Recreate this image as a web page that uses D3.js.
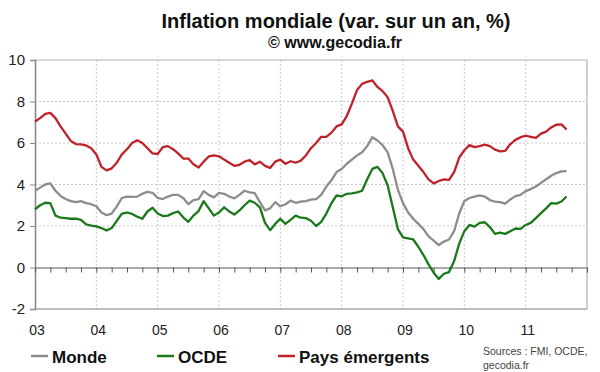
<!DOCTYPE html>
<html>
<head>
    <meta charset="utf-8">
    <script src="https://cdn.jsdelivr.net/npm/d3@7"></script>
    <style>
        * { margin: 0; padding: 0; }
        body { background: #fff; }
        svg { display: block; font-family: Arial, "Liberation Sans", sans-serif; }
    </style>
</head>
<body>
<svg id="chart" width="600" height="372"></svg>
<script>
    // monthly values, Jan 2003 -> Sep 2011
    var monde = [3.7, 3.85, 4.0, 4.05, 3.7, 3.45, 3.3, 3.2, 3.15, 3.2, 3.1, 3.05,
        2.95, 2.65, 2.52, 2.6, 2.95, 3.35, 3.42, 3.4, 3.42, 3.55, 3.65, 3.6,
        3.35, 3.3, 3.42, 3.5, 3.5, 3.35, 3.05, 3.25, 3.3, 3.68, 3.5, 3.38,
        3.6, 3.55, 3.42, 3.33, 3.5, 3.7, 3.62, 3.58, 3.15, 2.75, 2.85, 3.15,
        2.95, 3.05, 3.22, 3.12, 3.18, 3.2, 3.27, 3.3, 3.5, 3.9, 4.2, 4.6,
        4.75, 5.0, 5.2, 5.4, 5.55, 5.85, 6.28, 6.12, 5.9, 5.55, 4.75, 3.75,
        3.1, 2.65, 2.35, 2.1, 1.85, 1.5, 1.3, 1.08, 1.25, 1.35, 1.75, 2.6,
        3.2, 3.35, 3.42, 3.48, 3.42, 3.25, 3.17, 3.15, 3.08, 3.28, 3.44, 3.5,
        3.68, 3.78, 3.9, 4.08, 4.25, 4.42, 4.55, 4.63, 4.64];
    var ocde = [2.8, 3.0, 3.12, 3.1, 2.5, 2.4, 2.38, 2.35, 2.36, 2.3, 2.08, 2.02,
        1.98, 1.9, 1.78, 1.9, 2.25, 2.6, 2.65, 2.58, 2.45, 2.35, 2.7, 2.88,
        2.6, 2.48, 2.5, 2.62, 2.7, 2.42, 2.2, 2.5, 2.72, 3.2, 2.85, 2.5,
        2.65, 2.9, 2.7, 2.55, 2.75, 3.0, 3.22, 3.12, 2.9, 2.15, 1.8, 2.1,
        2.35, 2.1, 2.3, 2.5, 2.4, 2.38, 2.25, 2.0, 2.2, 2.6, 3.1, 3.47,
        3.43, 3.55, 3.57, 3.62, 3.7, 4.25, 4.75, 4.85, 4.55, 3.95, 2.9, 1.85,
        1.45, 1.4, 1.35, 1.0, 0.6, 0.15, -0.25, -0.55, -0.3, -0.22, 0.3, 1.15,
        1.75, 2.05, 1.97, 2.15, 2.18, 1.95, 1.62, 1.68, 1.62, 1.75, 1.88, 1.86,
        2.05, 2.15, 2.38, 2.62, 2.85, 3.1, 3.08, 3.18, 3.42];
    var emergents = [7.04, 7.2, 7.4, 7.45, 7.2, 6.8, 6.45, 6.1, 5.95, 5.93, 5.88, 5.75,
        5.45, 4.85, 4.68, 4.78, 5.05, 5.45, 5.7, 6.0, 6.13, 6.0, 5.75, 5.5,
        5.47, 5.8, 5.85, 5.7, 5.5, 5.25, 5.25, 4.98, 4.82, 5.1, 5.35, 5.4,
        5.36, 5.2, 5.05, 4.9, 4.95, 5.1, 5.18, 4.97, 5.1, 4.9, 4.8, 5.1,
        5.2, 5.0, 5.12, 5.05, 5.15, 5.4, 5.75, 6.0, 6.3, 6.3, 6.5, 6.8,
        6.9, 7.3, 7.9, 8.55, 8.85, 8.95, 9.02, 8.7, 8.5, 8.2, 7.55, 6.8,
        6.55, 5.75, 5.2, 4.9, 4.6, 4.25, 4.05, 4.17, 4.25, 4.22, 4.6, 5.3,
        5.65, 5.9, 5.8, 5.85, 5.92, 5.85, 5.68, 5.6, 5.62, 5.95, 6.15, 6.28,
        6.35, 6.3, 6.25, 6.45, 6.55, 6.75, 6.88, 6.9, 6.65];
    var years = ["03", "04", "05", "06", "07", "08", "09", "10", "11"];
    var yTicks = [-2, 0, 2, 4, 6, 8, 10];

    var series = [
        { name: "Monde", values: monde, color: "#8c8c8c", lx: 31 },
        { name: "OCDE", values: ocde, color: "#1b781b", lx: 157 },
        { name: "Pays émergents", values: emergents, color: "#c0222a", lx: 278 }
    ];

    var plot = { left: 35, right: 587, top: 60, bottom: 309 };
    var svg = d3.select("#chart");

    var x = d3.scaleLinear().domain([0, years.length * 12]).range([plot.left, plot.right]);
    var y = d3.scaleLinear().domain([-2, 10]).range([plot.bottom, plot.top]);

    // title
    svg.append("text").attr("x", 336).attr("y", 28)
        .attr("text-anchor", "middle")
        .style("font-size", "20px").style("font-weight", "bold").style("fill", "#111")
        .text("Inflation mondiale (var. sur un an, %)");
    svg.append("text").attr("x", 335).attr("y", 48)
        .attr("text-anchor", "middle")
        .style("font-size", "16px").style("font-weight", "bold").style("fill", "#111")
        .text("© www.gecodia.fr");

    // grid
    svg.selectAll(".hgrid")
        .data([2, 4, 6, 8])
        .enter().append("line")
        .attr("x1", plot.left).attr("x2", plot.right)
        .attr("y1", d => y(d)).attr("y2", d => y(d))
        .attr("stroke", "#c8c8c8").attr("stroke-dasharray", "2,2");
    svg.selectAll(".vgrid")
        .data(d3.range(1, years.length))
        .enter().append("line")
        .attr("x1", d => x(d * 12)).attr("x2", d => x(d * 12))
        .attr("y1", plot.top).attr("y2", plot.bottom)
        .attr("stroke", "#c8c8c8").attr("stroke-dasharray", "2,2");

    // frame
    svg.append("path")
        .attr("d", "M" + plot.left + "," + plot.top + "H" + plot.right + "V" + plot.bottom)
        .attr("fill", "none").attr("stroke", "#b4b4b4").attr("stroke-width", 1.2);
    svg.append("line")
        .attr("x1", plot.left).attr("x2", plot.right).attr("y1", plot.bottom).attr("y2", plot.bottom)
        .attr("stroke", "#808080").attr("stroke-width", 1.2);

    // y axis
    var yAxis = svg.append("g")
        .attr("transform", "translate(" + plot.left + ",0)")
        .call(d3.axisLeft(y).tickValues(yTicks).tickSize(5).tickPadding(5).tickFormat(d => String(d)));
    yAxis.select(".domain").attr("stroke", "#8a8a8a").attr("stroke-width", 1.6);
    yAxis.selectAll(".tick line").attr("stroke", "#8a8a8a");
    yAxis.selectAll("text")
        .style("font-size", "15px").style("fill", "#222")
        .style("font-family", "Arial, 'Liberation Sans', sans-serif");

    // x axis on zero line, quarterly ticks
    var xAxis = svg.append("g")
        .attr("transform", "translate(0," + y(0) + ")")
        .call(d3.axisBottom(x).tickValues(d3.range(3, years.length * 12 + 1, 3))
            .tickSize(5).tickFormat(""));
    xAxis.select(".domain").attr("stroke", "#555").attr("stroke-width", 1);
    xAxis.selectAll(".tick line").attr("stroke", "#555");

    svg.selectAll(".year")
        .data(years)
        .enter().append("text")
        .attr("x", (d, i) => x(i * 12) + 2)
        .attr("y", 335)
        .attr("text-anchor", "middle")
        .style("font-size", "14px").style("fill", "#222")
        .text(d => d);

    // lines
    var line = d3.line()
        .x((d, i) => x(i))
        .y(d => y(d));

    svg.selectAll(".series")
        .data(series)
        .enter().append("path")
        .attr("d", d => line(d.values))
        .attr("fill", "none")
        .attr("stroke", d => d.color)
        .attr("stroke-width", 2.3)
        .attr("stroke-linejoin", "round");

    // legend
    var legend = svg.selectAll(".legend")
        .data(series)
        .enter().append("g");
    legend.append("line")
        .attr("x1", d => d.lx).attr("x2", d => d.lx + 17)
        .attr("y1", 356).attr("y2", 356)
        .attr("stroke", d => d.color).attr("stroke-width", 2.5);
    legend.append("text")
        .attr("x", d => d.lx + 21).attr("y", 363)
        .style("font-size", "17px").style("font-weight", "bold").style("fill", "#111")
        .text(d => d.name);

    svg.append("text").attr("x", 483).attr("y", 355)
        .style("font-size", "10.5px").style("fill", "#444")
        .text("Sources : FMI, OCDE,");
    svg.append("text").attr("x", 483).attr("y", 369)
        .style("font-size", "10.5px").style("fill", "#444")
        .text("gecodia.fr");
</script>
</body>
</html>
